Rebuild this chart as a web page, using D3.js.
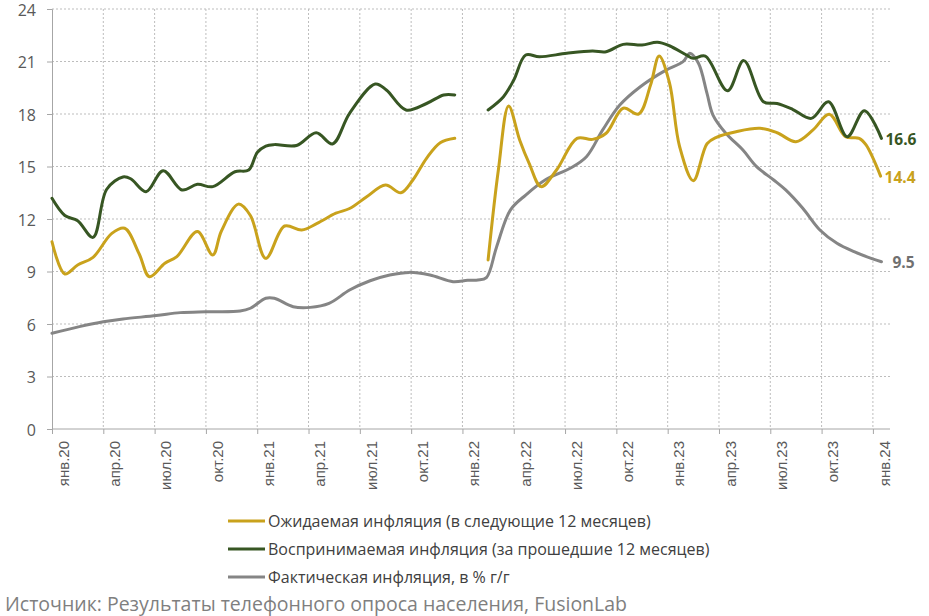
<!DOCTYPE html>
<html><head><meta charset="utf-8">
<script src="https://cdn.jsdelivr.net/npm/d3@7/dist/d3.min.js"></script>
<style>
html,body{margin:0;padding:0;background:#fff;}
svg{display:block;font-family:"Open Sans","Noto Sans",sans-serif;}
</style></head>
<body>
<svg id="chart" width="929" height="616"></svg>
<script>
// ---- data (x = months since Jan 2020) ----
const tickMonths = [0,3,6,9,12,15,18,21,24,27,30,33,36,39,42,45,48];
const tickLabels = ["янв.20","апр.20","июл.20","окт.20","янв.21","апр.21","июл.21","окт.21","янв.22","апр.22","июл.22","окт.22","янв.23","апр.23","июл.23","окт.23","янв.24"];
const yTicks = [0,3,6,9,12,15,18,21,24];

// Expected inflation (next 12 months) – two segments
const expMonths1 = [0,0.75,1.5,2.4,3.5,4.25,5.1,5.7,6.6,7.3,8.5,9.4,9.9,10.9,11.6,12.5,13.6,14.6,15.5,16.6,17.4,18.4,19.5,20.4,21.1,21.9,22.7,23.55];
const expValues1 = [10.7,8.86,9.37,9.81,11.18,11.47,10.0,8.7,9.47,9.85,11.28,9.94,11.3,12.85,12.2,9.75,11.6,11.37,11.75,12.33,12.6,13.27,13.94,13.5,14.23,15.47,16.36,16.61];
const expMonths2 = [25.5,26.1,26.7,27.35,27.9,28.6,29.5,30.7,31.6,32.4,33.4,34.3,35.0,35.5,36.1,36.7,37.5,38.3,38.85,40,41.4,42.4,43.5,44.5,45.45,46.4,47.2,47.6,48.45];
const expValues2 = [9.66,14.8,18.46,16.5,15.18,13.85,14.8,16.61,16.55,16.9,18.33,18.0,19.66,21.31,19.8,16.13,14.19,16.3,16.67,16.99,17.18,16.93,16.42,17.09,17.98,16.7,16.61,16.23,14.45];

// Perceived inflation (past 12 months) – two segments
const perMonths1 = [0,0.75,1.5,2.4,3.2,4.15,4.6,5.5,6.5,7.6,8.5,9.4,10.7,11.5,12.0,12.5,13.0,14.3,15.45,16.4,17.4,18.9,19.55,20.7,21.9,22.9,23.55];
const perValues1 = [13.18,12.2,11.9,10.95,13.7,14.4,14.3,13.56,14.76,13.66,13.98,13.85,14.7,14.8,15.8,16.17,16.25,16.2,16.93,16.29,18.04,19.71,19.37,18.23,18.6,19.09,19.09];
const perMonths2 = [25.5,26.4,27,27.7,28.5,30.1,31.6,32.4,33.4,34.5,35.4,36.1,37.1,37.5,38.2,39.5,40.45,41.6,42.4,43.3,44.4,45.4,46.5,47.5,48.5];
const perValues2 = [18.23,18.99,19.94,21.37,21.27,21.47,21.6,21.56,21.98,21.94,22.1,21.9,21.37,21.18,21.31,19.33,21.05,18.7,18.6,18.27,17.75,18.7,16.7,18.19,16.61];

// Actual inflation, % y/y
const actMonths = [0,1.6,3,4.15,6.1,7.5,9,11,11.6,12.5,13,14.1,15.1,16.2,17.4,18.6,19.75,20.9,22.1,23.45,24.3,24.9,25.4,26,26.8,27.7,28.9,30.3,31.25,32.2,33.2,34.4,35.9,36.9,37.3,37.8,38.3,38.65,39.4,40.4,41.2,42.2,42.9,43.9,44.9,45.9,46.9,47.9,48.5];
const actValues = [5.47,5.85,6.13,6.29,6.48,6.65,6.7,6.74,6.9,7.47,7.47,6.99,6.95,7.18,7.94,8.47,8.8,8.95,8.8,8.42,8.5,8.51,8.65,10.42,12.51,13.37,14.27,14.9,15.56,17.09,18.51,19.56,20.51,20.99,21.47,20.9,19.18,17.94,16.9,15.94,14.99,14.23,13.66,12.61,11.37,10.61,10.13,9.75,9.56];

const endLabels = ["14.4","16.6","9.5"];
const legendLabels = ["Ожидаемая инфляция (в следующие 12 месяцев)","Воспринимаемая инфляция (за прошедшие 12 месяцев)","Фактическая инфляция, в % г/г"];
const sourceText = "Источник: Результаты телефонного опроса населения, FusionLab";

// ---- drawing ----
(function(){
const colors = ["#C9A21C","#375623","#858585"];
const svg = d3.select("#chart");
const pL = 52, pR = 890, pT = 9, pB = 429;
const x = d3.scaleLinear().domain([0,49]).range([pL,pR]);
const y = d3.scaleLinear().domain([0,24]).range([pB,pT]);

// horizontal grid
svg.append("g").selectAll("line").data(yTicks.filter(d=>d>0)).join("line")
  .attr("x1",pL).attr("x2",pR).attr("y1",d=>y(d)).attr("y2",d=>y(d))
  .attr("stroke","#bdbdbd").attr("stroke-width",1).attr("stroke-dasharray","2,2");
// vertical grid
svg.append("g").selectAll("line").data(tickMonths.filter(d=>d>0)).join("line")
  .attr("x1",d=>x(d)).attr("x2",d=>x(d)).attr("y1",pT).attr("y2",pB)
  .attr("stroke","#bdbdbd").attr("stroke-width",1).attr("stroke-dasharray","2,2");

// y axis
const yAxis = svg.append("g").attr("transform",`translate(${pL},0)`)
  .call(d3.axisLeft(y).tickValues(yTicks).tickSize(5).tickPadding(11));
yAxis.select(".domain").attr("stroke","#a6a6a6");
yAxis.selectAll(".tick line").attr("stroke","#a6a6a6");
yAxis.selectAll("text").attr("fill","#595959").attr("dy","0.4em").style("font-size","16px").style("font-family","'Open Sans',sans-serif");

// x axis
const xAxis = svg.append("g").attr("transform",`translate(0,${pB})`)
  .call(d3.axisBottom(x).tickValues(tickMonths).tickFormat((d,i)=>tickLabels[i]).tickSize(5).tickSizeOuter(0));
xAxis.select(".domain").attr("stroke","#a6a6a6").attr("d",`M${pL},0H${pR}`);
xAxis.selectAll(".tick line").attr("stroke","#a6a6a6");
xAxis.selectAll("text").attr("fill","#595959").style("font-size","15px")
  .attr("text-anchor","end").attr("dy","0.35em")
  .attr("transform","translate(11,12) rotate(-90)").attr("x",0).attr("y",0);

// lines
const line = d3.line().x(d=>x(d[0])).y(d=>y(d[1])).curve(d3.curveCatmullRom.alpha(0.5));
const zip = (a,b)=>a.map((m,i)=>[m,b[i]]);
const series = [
  {segs:[zip(actMonths,actValues)], c:colors[2]},
  {segs:[zip(expMonths1,expValues1), zip(expMonths2,expValues2)], c:colors[0]},
  {segs:[zip(perMonths1,perValues1), zip(perMonths2,perValues2)], c:colors[1]},
];
series.forEach(s=>s.segs.forEach(seg=>{
  svg.append("path").datum(seg).attr("d",line).attr("fill","none")
    .attr("stroke",s.c).attr("stroke-width",3).attr("stroke-linejoin","round").attr("stroke-linecap","round");
}));

// end labels
const ends = [
  {m:expMonths2[expMonths2.length-1], v:expValues2[expValues2.length-1], t:endLabels[0], c:colors[0]},
  {m:perMonths2[perMonths2.length-1], v:perValues2[perValues2.length-1], t:endLabels[1], c:colors[1]},
  {m:actMonths[actMonths.length-1], v:actValues[actValues.length-1], t:endLabels[2], c:"#707070"},
];
svg.append("g").selectAll("text").data(ends).join("text")
  .attr("x",(d,i)=>x(d.m)+(i===2?11:4)).attr("y",d=>y(d.v)+1).attr("dy","0.35em")
  .attr("fill",d=>d.c).style("font-size","15.5px").style("font-weight","bold").text(d=>d.t);

// legend
const lg = svg.append("g");
legendLabels.forEach((t,i)=>{
  const yy = 521 + i*28;
  lg.append("line").attr("x1",228).attr("x2",265).attr("y1",yy).attr("y2",yy)
    .attr("stroke",colors[i]).attr("stroke-width",3);
  lg.append("text").attr("x",268).attr("y",yy).attr("dy","0.35em").attr("fill","#404040")
    .style("font-size","16px").text(t);
});
svg.append("text").attr("x",5).attr("y",604).attr("dy","0.35em").attr("fill","#7f7f7f")
  .style("font-size","19.5px").text(sourceText);
})();
</script>
</body></html>
